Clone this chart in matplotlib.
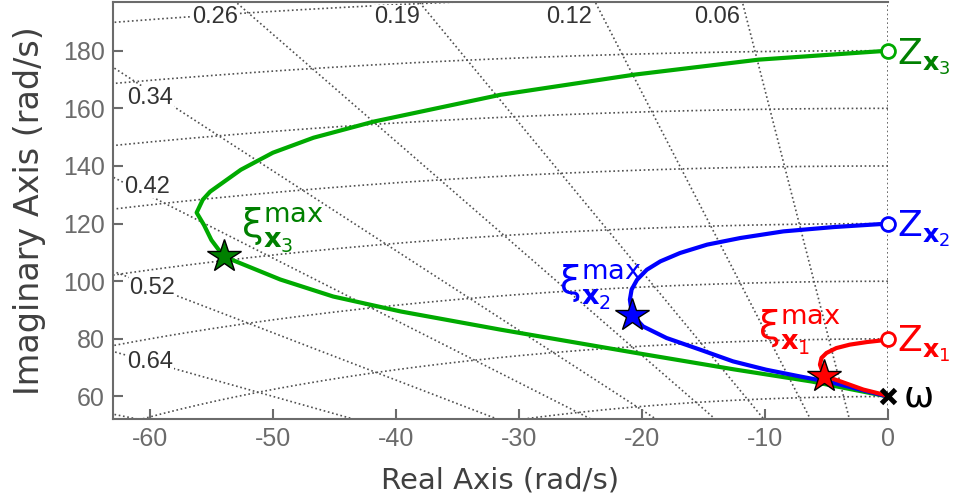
import numpy as np
import matplotlib
matplotlib.use("Agg")
import matplotlib.pyplot as plt

plt.rcParams["mathtext.fontset"] = "dejavusans"
plt.rcParams["axes.unicode_minus"] = False

# Root-locus branches (real, imaginary parts in rad/s), from the pole at j*omega to each zero
x3_re = [0, -6.2, -12.5, -20.6, -31.5, -39.6, -45.1, -49.4, -54.0, -55.0, -55.6, -56.2,
         -55.7, -55.1, -52.6, -50.0, -46.7, -41.8, -31.5, -20.6, -10.5, 0]
x3_im = [60, 65.2, 69.4, 75.2, 83.2, 89.5, 94.7, 100.6, 108.6, 114.3, 119.5, 123.8,
         128.3, 131.1, 138.7, 144.6, 149.8, 155.4, 164.7, 171.7, 176.9, 180]

x2_re = [0, -1.7, -4.4, -7.2, -9.9, -12.6, -15.3, -18.0, -19.9, -20.8, -20.98, -20.84,
         -20.4, -19.6, -18.5, -16.9, -14.7, -12.0, -8.5, -4.4, 0]
x2_im = [60, 61.8, 64.7, 67.0, 69.3, 72.2, 76.3, 80.3, 84.3, 88.4, 93.6, 97.1,
         100.5, 104.0, 106.9, 109.8, 112.7, 115.0, 117.3, 118.8, 120]

x1_re = [0, -0.4, -2.0, -3.9, -5.2, -5.53, -5.4, -5.0, -4.2, -3.1, -1.7, -0.65, 0]
x1_im = [60, 60.7, 62.4, 65.3, 67.2, 71.05, 73.4, 75.1, 76.8, 78.0, 78.9, 79.4, 80]

# Maximum-damping points on each branch
star_re = [-54.0, -20.8, -5.2]
star_im = [108.6, 88.4, 67.2]

# Zeros and the pole
zero_im = [80, 120, 180]
pole_im = 60

# Damping-ratio and natural-frequency grid
zetas = [0, 0.06, 0.12, 0.19, 0.26, 0.34, 0.42, 0.52, 0.64, 0.76, 0.86, 0.94, 0.985]
wns = [60, 80, 100, 120, 140, 160, 180, 200, 220]
zeta_labels = ["0.26", "0.19", "0.12", "0.06", "0.34", "0.42", "0.52", "0.64"]
zeta_label_re = [-54.7, -39.9, -25.9, -13.9, -60.0, -60.2, -59.8, -60.0]
zeta_label_im = [191.7, 191.7, 191.7, 191.7, 163.6, 132.8, 97.8, 71.8]

line_colors = ["#ff0000", "#0000ff", "#00aa00"]
text_colors = ["#ff0000", "#0000ff", "#008000"]
star_colors = ["#008000", "#0000ff", "#ff0000"]

fig = plt.figure(figsize=(9.55, 5.04), dpi=100)
ax = fig.add_axes([0.1183, 0.1687, 0.8115, 0.8279])

grid_kw = dict(color="#505050", lw=1.2, ls=(0, (1, 1.6)), zorder=1)
for z in zetas:
    r = 260
    ax.plot([0, -z * r], [0, np.sqrt(1 - z * z) * r], **grid_kw)
th = np.linspace(np.pi / 2, np.pi, 400)
for w in wns:
    ax.plot(w * np.cos(th), w * np.sin(th), **grid_kw)

for lab, lx, ly in zip(zeta_labels, zeta_label_re, zeta_label_im):
    ax.text(lx, ly, lab, fontsize=17, family="Liberation Sans", color="#333333",
            ha="center", va="center", zorder=2,
            bbox=dict(facecolor="white", edgecolor="none", pad=0.5))

ax.plot(x3_re, x3_im, color=line_colors[2], lw=3, zorder=3, solid_joinstyle="round")
ax.plot(x2_re, x2_im, color=line_colors[1], lw=3, zorder=4, solid_joinstyle="round")
ax.plot(x1_re, x1_im, color=line_colors[0], lw=3, zorder=5, solid_joinstyle="round")

for sr, si, sc in zip(star_re, star_im, star_colors):
    ax.plot(sr, si, marker="*", ms=25, mfc=sc, mec="black", mew=1, zorder=7)

for zi, c in zip(zero_im, line_colors):
    ax.plot(0, zi, marker="o", ms=10, mfc="white", mec=c, mew=2, zorder=7, clip_on=False)

ax.plot(0, pole_im, marker="x", ms=10, mec="black", mew=3.5, zorder=8, clip_on=False)
ax.annotate("ω", (0, pole_im), xytext=(11, 0), textcoords="offset points",
            fontsize=26, ha="left", va="center", color="black", annotation_clip=False)

# Zero labels
for k, (zi, c) in enumerate(zip(zero_im, text_colors)):
    ax.annotate(r"Z$_{\mathbf{x}_%d}$" % (k + 1), (0, zi), xytext=(6.5, -9.5),
                textcoords="offset points", fontsize=26, color=c,
                ha="left", va="baseline", annotation_clip=False)

# Maximum-damping labels
xi_pos = [(-7.2, 82.2, "center"), (-23.4, 98.0, "center"), (-52.6, 117.9, "left")]
for k, ((px, py, ha), c) in enumerate(zip(xi_pos, text_colors)):
    ax.text(px, py, r"$\mathrm{\xi}^{\mathrm{max}}_{\mathbf{x}_%d}$" % (k + 1),
            fontsize=28, color=c, ha=ha, va="center", zorder=6)

ax.set_xlim(-63, 0)
ax.set_ylim(52.2, 197)
ax.set_xticks([-60, -50, -40, -30, -20, -10, 0])
ax.set_yticks([60, 80, 100, 120, 140, 160, 180])
for s in ["left", "bottom", "top"]:
    ax.spines[s].set_color("#6b6b6b")
    ax.spines[s].set_linewidth(1.5)
ax.spines["right"].set_visible(False)
ax.tick_params(direction="in", length=7, width=1.5, color="#6b6b6b",
               labelcolor="#6b6b6b", labelsize=18, pad=6)
for lbl in ax.get_xticklabels() + ax.get_yticklabels():
    lbl.set_family("Liberation Sans")
ax.set_xlabel("Real Axis (rad/s)", fontsize=21, color="#404040", labelpad=11)
ax.set_ylabel("Imaginary Axis (rad/s)", fontsize=24, color="#404040", labelpad=12)

fig.savefig("out.png", dpi=100)
